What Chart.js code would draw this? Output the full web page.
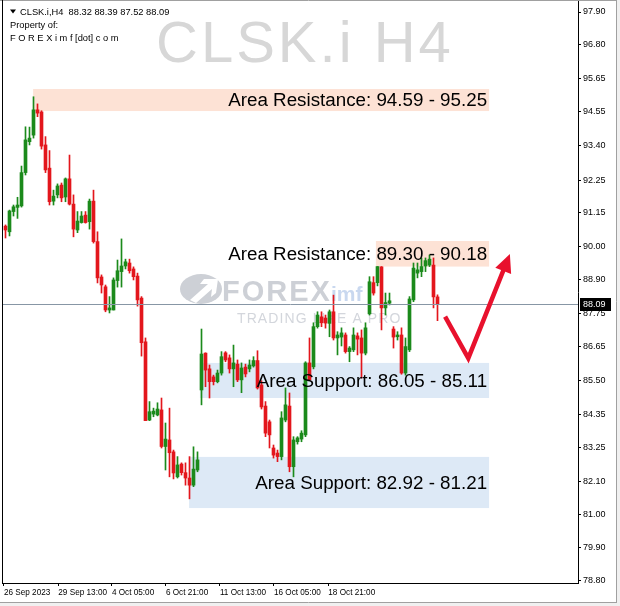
<!DOCTYPE html>
<html><head><meta charset="utf-8">
<script src="https://cdn.jsdelivr.net/npm/chart.js@4/dist/chart.umd.min.js"></script>
<style>html,body{margin:0;padding:0;background:#fff;overflow:hidden}#wrap{position:relative;width:620px;height:606px}</style>
</head><body><div id="wrap"><canvas id="c" width="620" height="606"></canvas></div>
<script>
const symbol = 'CLSK.i';
const timeframe = 'H4';
const openP  = [90.70,90.51,91.19,91.33,91.38,92.50,93.54,93.76,94.61,94.54,93.43,92.65,91.54,91.75,92.08,91.68,92.29,91.44,90.57,90.82,91.07,90.85,91.54,90.18,88.99,88.66,87.88,87.88,88.87,89.17,89.36,89.46,89.26,89.02,88.28,86.81,84.18,84.38,84.35,84.52,83.29,83.51,83.11,82.27,82.70,82.41,82.23,81.99,82.50,85.19,86.43,85.90,85.63,85.47,85.76,86.44,86.27,85.90,86.06,85.53,85.96,85.90,86.00,86.18,85.36,84.65,84.12,83.24,83.07,82.95,84.18,84.65,82.61,83.45,83.54,83.68,86.10,85.97,87.32,87.65,87.61,87.43,87.82,86.94,86.97,87.04,86.48,86.54,87.01,86.94,86.43,87.75,88.80,88.80,89.33,87.95,88.11,87.24,86.98,87.04,85.76,86.54,88.22,89.12,89.17,89.36,89.39,89.39,88.32];
const highP  = [90.74,91.24,91.41,91.67,92.72,94.04,94.03,95.05,94.81,94.58,93.71,93.24,91.91,92.12,92.15,92.32,93.09,91.75,91.19,91.19,91.19,91.61,91.91,90.51,89.06,88.72,88.33,88.96,89.56,90.27,89.59,89.59,89.33,89.12,88.33,86.94,84.80,84.58,84.76,84.92,84.08,84.58,83.17,82.95,82.74,82.74,82.95,83.28,83.11,87.24,86.44,86.03,85.69,85.86,86.48,86.48,86.37,86.70,86.20,86.10,86.06,86.20,86.31,86.51,85.50,84.80,84.18,83.34,83.17,84.46,85.26,85.09,83.62,83.62,83.82,86.14,86.94,87.45,87.82,87.82,87.71,87.88,88.38,87.15,87.28,87.11,86.65,87.28,87.11,87.21,87.45,89.00,89.00,89.34,89.34,88.45,88.45,87.32,87.15,87.28,86.94,88.33,89.46,89.46,89.63,89.63,89.73,89.63,88.39];
const lowP   = [90.30,90.37,91.04,90.96,91.34,92.42,93.43,93.66,94.38,93.29,92.50,91.41,91.41,91.65,91.52,91.52,91.41,90.34,90.48,90.80,90.80,90.60,90.13,88.79,88.45,87.82,87.78,87.88,88.65,88.65,89.26,89.12,88.89,88.01,86.33,84.16,84.16,84.29,84.32,83.24,82.50,82.27,82.20,82.23,82.33,81.99,81.53,81.94,82.44,84.69,85.30,84.92,85.36,85.43,85.69,86.14,85.76,85.30,85.47,85.10,85.63,85.80,85.96,85.22,84.55,83.62,83.24,82.90,82.78,82.84,84.12,82.44,82.27,83.37,83.45,83.62,85.50,85.90,87.27,87.32,87.27,86.98,86.87,86.37,86.67,86.43,86.14,86.48,86.37,85.59,86.37,87.71,88.38,88.69,87.21,87.71,88.05,86.60,86.87,85.72,85.69,86.48,88.16,88.96,89.00,89.17,89.34,87.95,87.52];
const closeP = [90.57,91.21,91.35,91.41,92.50,93.60,93.66,94.61,94.50,93.39,92.59,91.52,91.71,92.05,91.65,92.29,91.44,90.60,90.87,91.04,90.82,91.54,90.18,88.96,88.72,87.88,87.95,88.89,89.20,89.36,89.50,89.20,89.00,88.22,86.78,84.16,84.46,84.48,84.55,83.29,83.54,83.08,82.40,82.67,82.41,82.23,81.99,82.53,82.84,86.40,85.86,85.47,85.47,85.76,86.31,86.20,85.90,86.10,85.53,85.93,85.73,86.03,86.18,85.26,84.62,83.74,83.68,83.00,82.95,84.25,84.69,82.61,83.51,83.58,83.74,86.10,85.53,87.32,87.71,87.45,87.44,87.82,86.94,87.04,87.11,86.48,86.60,87.04,86.90,86.43,87.28,88.83,88.45,89.34,87.95,88.13,88.19,86.97,87.04,85.76,86.65,88.25,89.29,89.23,89.34,89.54,89.59,88.32,88.09];
const yTickValues = [97.90,96.80,95.65,94.55,93.40,92.25,91.15,90.00,88.90,87.75,86.65,85.50,84.35,83.25,82.10,81.00,79.90,78.80];
const xTickLabels = ['26 Sep 2023','29 Sep 13:00','4 Oct 05:00','6 Oct 21:00','11 Oct 13:00','16 Oct 05:00','18 Oct 21:00'];
const xTickBars = [-0.4,13.2,26.6,40.1,53.6,67.1,80.7];
const zoneLabels = ['Area Resistance: 94.59 - 95.25','Area Resistance: 89.30 - 90.18','Area Support: 86.05 - 85.11','Area Support: 82.92 - 81.21'];
const zoneKinds = ['res','res','sup','sup'];
const zoneHigh = [95.31,90.20,86.10,82.94];
const zoneLow  = [94.57,89.34,84.92,81.22];
const zoneFromBar = [6.9,92.6,48.6,45.9];
const zoneToBar = [120.9,120.9,120.9,120.9];
const arrowBars = [109.9,115.7,126.1];
const arrowPrices = [87.66,86.26,89.76];

const GREEN='#1b8a1b', RED='#e3161c';
const FONT="'Liberation Sans', Arial, sans-serif";
const N=openP.length;
const bodies=[], wicks=[], cols=[];
for(let i=0;i<N;i++){
  const o=openP[i], c=closeP[i];
  let lo=Math.min(o,c), hi=Math.max(o,c);
  if(hi-lo<0.035){const m=(hi+lo)/2; lo=m-0.0175; hi=m+0.0175;}
  bodies.push({x:i,y:[lo,hi]});
  wicks.push({x:i,y:[lowP[i],highP[i]]});
  cols.push(c>=o?GREEN:RED);
}
const lastO=openP[N-1], lastH=highP[N-1], lastL=lowP[N-1], lastC=closeP[N-1];

function spaced(ctx,text,x,yb,gap){
  for(const ch of text){ctx.fillText(ch,x,yb);x+=ctx.measureText(ch).width+gap;}
  return x;
}

const decor={
  id:'decor',
  beforeDraw(chart){
    const {ctx,width,height}=chart;
    ctx.save();
    ctx.fillStyle='#fff';ctx.fillRect(0,0,width,height);
    ctx.fillStyle='#f0f0f0';ctx.fillRect(617,0,3,height);ctx.fillRect(0,603,width,3);
    ctx.strokeStyle='#a0a0a0';ctx.lineWidth=1;ctx.beginPath();
    ctx.moveTo(616.5,0);ctx.lineTo(616.5,603);ctx.moveTo(0,602.5);ctx.lineTo(617,602.5);
    ctx.moveTo(0,0.5);ctx.lineTo(617,0.5);
    ctx.stroke();
    ctx.restore();
  },
  beforeDatasetsDraw(chart){
    const {ctx,chartArea:a,scales:{x,y}}=chart;
    ctx.save();
    ctx.fillStyle='#d7d7d7';ctx.font='58px '+FONT;ctx.textAlign='left';ctx.textBaseline='alphabetic';
    spaced(ctx,symbol+' '+timeframe,156,62,3);
    ctx.fillStyle='#cdd0d6';
    ctx.beginPath();ctx.ellipse(201,289,21,15,0,0,Math.PI*2);ctx.fill();
    ctx.fillStyle='#fff';
    ctx.beginPath();ctx.moveTo(190,300);ctx.lineTo(208,284);ctx.lineTo(200,284);ctx.lineTo(204,279);ctx.lineTo(218,279);ctx.lineTo(216,293);ctx.lineTo(211,297);ctx.lineTo(212,289);ctx.lineTo(196,303);ctx.closePath();ctx.fill();
    ctx.fillStyle='#cdd0d6';ctx.font='900 29px '+FONT;
    let lx=spaced(ctx,'FOREX',222,301,2);
    ctx.fillStyle='#c9d8ef';ctx.font='bold 21px '+FONT;
    ctx.fillText('imf',lx-1,301);
    ctx.fillStyle='#d3d6dc';ctx.font='14px '+FONT;
    spaced(ctx,'TRADING LIKE A PRO',237,323,1.1);
    for(let i=0;i<zoneLabels.length;i++){
      const x0=x.getPixelForValue(zoneFromBar[i]), x1=x.getPixelForValue(zoneToBar[i]);
      const y0=y.getPixelForValue(zoneHigh[i]), y1=y.getPixelForValue(zoneLow[i]);
      ctx.fillStyle=zoneKinds[i]==='res'?'#fde2d5':'#dde9f6';
      ctx.fillRect(x0,y0,x1-x0,y1-y0);
    }
    ctx.restore();
  },
  afterDatasetsDraw(chart){
    const {ctx,chartArea:a,scales:{x,y}}=chart;
    ctx.save();
    const py=Math.round(y.getPixelForValue(lastC))+0.5;
    ctx.strokeStyle='#8796a5';ctx.lineWidth=1;ctx.beginPath();ctx.moveTo(a.left,py);ctx.lineTo(a.right,py);ctx.stroke();
    ctx.fillStyle='#000';ctx.font='18.8px '+FONT;ctx.textAlign='right';ctx.textBaseline='middle';
    for(let i=0;i<zoneLabels.length;i++){
      const x1=x.getPixelForValue(zoneToBar[i]);
      const yc=(y.getPixelForValue(zoneHigh[i])+y.getPixelForValue(zoneLow[i]))/2;
      ctx.fillText(zoneLabels[i],x1-2,yc+1);
    }
    const pts=arrowBars.map((b,i)=>[x.getPixelForValue(b),y.getPixelForValue(arrowPrices[i])]);
    ctx.strokeStyle='#e8112d';ctx.fillStyle='#e8112d';ctx.lineWidth=4.5;ctx.lineJoin='miter';ctx.lineCap='butt';
    const tip=pts[2], prev=pts[1];
    let dx=tip[0]-prev[0], dy=tip[1]-prev[1]; const L=Math.hypot(dx,dy); dx/=L; dy/=L;
    const hl=18, hw=8.5;
    const bx=tip[0]-dx*hl, by=tip[1]-dy*hl;
    ctx.beginPath();ctx.moveTo(pts[0][0],pts[0][1]);ctx.lineTo(pts[1][0],pts[1][1]);ctx.lineTo(bx+dx*2,by+dy*2);ctx.stroke();
    ctx.beginPath();ctx.moveTo(tip[0],tip[1]);ctx.lineTo(bx-dy*hw,by+dx*hw);ctx.lineTo(bx+dy*hw,by-dx*hw);ctx.closePath();ctx.fill();
    ctx.fillStyle='#000';ctx.textAlign='left';ctx.textBaseline='middle';ctx.font='9.3px '+FONT;
    ctx.beginPath();ctx.moveTo(10,9.5);ctx.lineTo(16,9.5);ctx.lineTo(13,13.5);ctx.closePath();ctx.fill();
    ctx.fillText(symbol+','+timeframe+'  '+[lastO,lastH,lastL,lastC].map(v=>v.toFixed(2)).join(' '),20,12);
    ctx.fillText('Property of:',10,25);
    ctx.fillText('F O R E X i m f [dot] c o m',10,38);
    ctx.strokeStyle='#000';ctx.lineWidth=1;ctx.beginPath();
    ctx.moveTo(a.left-0.5,0);ctx.lineTo(a.left-0.5,a.bottom+1);
    ctx.stroke();
    ctx.restore();
  },
  afterDraw(chart){
    const {ctx,chartArea:a,scales:{y}}=chart;
    ctx.save();
    const py=Math.round(y.getPixelForValue(lastC));
    ctx.fillStyle='#000';ctx.fillRect(a.right+2,py-6,31,13);
    ctx.fillStyle='#fff';ctx.font='9px '+FONT;ctx.textAlign='left';ctx.textBaseline='middle';
    ctx.fillText(lastC.toFixed(2),a.right+5,py+0.5);
    ctx.restore();
  }
};

new Chart(document.getElementById('c'),{
  type:'bar',
  data:{datasets:[
    {data:bodies,backgroundColor:cols,barThickness:3,grouped:false,borderWidth:0,order:0},
    {data:wicks,backgroundColor:cols,barThickness:1,grouped:false,borderWidth:0,order:1}
  ]},
  options:{
    responsive:false,animation:false,events:[],
    layout:{padding:{left:3,top:1,right:0,bottom:0}},
    plugins:{legend:{display:false},tooltip:{enabled:false},title:{display:false}},
    scales:{
      x:{type:'linear',position:'bottom',min:-0.625,max:143.125,offset:false,
        grid:{display:true,drawOnChartArea:false,drawTicks:true,tickLength:3,color:'#000',offset:false},
        border:{display:true,color:'#000',width:1},
        afterBuildTicks(s){s.ticks=xTickBars.map(v=>({value:v}));},
        afterFit(s){s.height=23;s.paddingLeft=0;s.paddingRight=0;},
        ticks:{autoSkip:false,maxRotation:0,minRotation:0,align:'start',padding:2,color:'#000',font:{family:FONT,size:8.2},
          callback(v,i){return xTickLabels[i];}}
      },
      y:{type:'linear',position:'right',min:78.7001,max:98.2699,
        grid:{display:true,drawOnChartArea:false,drawTicks:true,tickLength:3,color:'#000'},
        border:{display:true,color:'#000',width:1},
        afterBuildTicks(s){s.ticks=yTickValues.map(v=>({value:v}));},
        afterFit(s){s.width=42;s.paddingTop=0;s.paddingBottom=0;},
        ticks:{autoSkip:false,padding:2,color:'#000',font:{family:FONT,size:9},
          callback(v){return Number(v).toFixed(2);}}
      }
    }
  },
  plugins:[decor]
});
</script></body></html>
